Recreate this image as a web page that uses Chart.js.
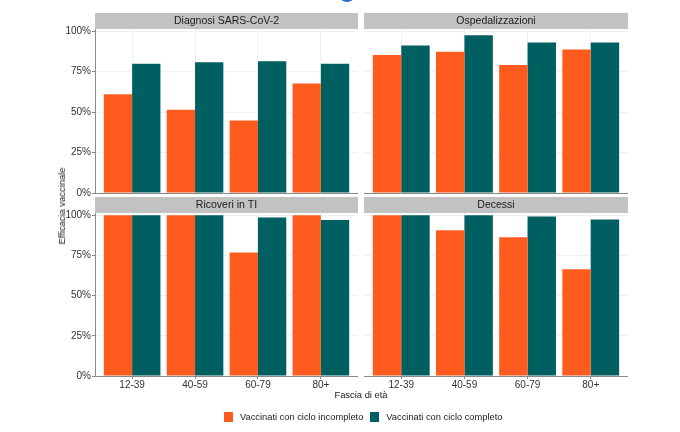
<!DOCTYPE html>
<html>
<head>
<meta charset="utf-8">
<script src="https://cdn.jsdelivr.net/npm/chart.js@4"></script>
<style>
  body { margin: 0; background: #fff; width: 680px; height: 432px; overflow: hidden; position: relative;
         font-family: 'Liberation Sans', Arial, sans-serif; color: #1a1a1a; }
  canvas { position: absolute; }
  .txt { position: absolute; white-space: nowrap; font-size: 9.4px; line-height: 12px; }
  #ytitle { left: 62px; top: 206px; transform: translate(-50%, -50%) rotate(-90deg); }
  #xtitle { left: 361px; top: 389px; transform: translateX(-50%); }
  #legend { position: absolute; left: 224px; top: 412px; display: flex; align-items: center; font-size: 9.3px; }
  #legend .sq { width: 9px; height: 10px; margin-right: 7px; }
  #legend .gap { width: 7px; }
  #logo { position: absolute; left: 340px; top: -10px; width: 14px; height: 12px; border-radius: 50%; background: #1f6fc2; }
</style>
</head>
<body>
<div id="logo"></div>
<canvas id="p0"></canvas>
<canvas id="p1"></canvas>
<canvas id="p2"></canvas>
<canvas id="p3"></canvas>
<div class="txt" id="ytitle">Efficacia vaccinale</div>
<div class="txt" id="xtitle">Fascia di età</div>
<div id="legend"></div>
<script>
'use strict';

const fasce = ['12-39', '40-59', '60-79', '80+'];
const pannelli = ['Diagnosi SARS-CoV-2', 'Ospedalizzazioni', 'Ricoveri in TI', 'Decessi'];
const serie = ['Vaccinati con ciclo incompleto', 'Vaccinati con ciclo completo'];

const diagnosiIncompleto = [0.61, 0.515, 0.448, 0.677];
const diagnosiCompleto = [0.799, 0.809, 0.815, 0.799];
const ospedIncompleto = [0.853, 0.873, 0.791, 0.887];
const ospedCompleto = [0.912, 0.976, 0.931, 0.931];
const tiIncompleto = [1, 1, 0.768, 1];
const tiCompleto = [1, 1, 0.986, 0.971];
const decessiIncompleto = [1, 0.907, 0.863, 0.664];
const decessiCompleto = [1, 1, 0.992, 0.973];

const yTicks = [0, 0.25, 0.5, 0.75, 1];

const incompleto = [diagnosiIncompleto, ospedIncompleto, tiIncompleto, decessiIncompleto];
const completo = [diagnosiCompleto, ospedCompleto, tiCompleto, decessiCompleto];

const ARANCIO = '#ff5b1f';
const VERDE = '#005f60';
const STRIP = '#c2c2c2';
const GRID = '#f1f1f1';
const AXIS = '#8a8a8a';
const FONT = "'Liberation Sans', Arial, sans-serif";

Chart.defaults.font.family = FONT;

// canvas boxes for the 2x2 facets
const boxes = [
  { x: 45, y: 13, w: 313, h: 188, yw: 50, xh: 8, yLab: true, xLab: false },
  { x: 364, y: 13, w: 264, h: 188, yw: 0, xh: 8, yLab: false, xLab: false },
  { x: 45, y: 197, w: 313, h: 201, yw: 50, xh: 22, yLab: true, xLab: true },
  { x: 364, y: 197, w: 264, h: 201, yw: 0, xh: 22, yLab: false, xLab: true }
];

const stripPlugin = {
  id: 'strip',
  beforeDraw(chart, args, opts) {
    const { ctx, chartArea } = chart;
    ctx.save();
    ctx.fillStyle = STRIP;
    ctx.fillRect(chartArea.left, chartArea.top - 16, chartArea.right - chartArea.left, 16);
    ctx.fillStyle = '#1a1a1a';
    ctx.font = '10.5px ' + FONT;
    ctx.textAlign = 'center';
    ctx.textBaseline = 'middle';
    ctx.fillText(opts.title, (chartArea.left + chartArea.right) / 2, chartArea.top - 7.5);
    ctx.restore();
  }
};

function toPoints(values) {
  return values.map((v, i) => ({ x: i, y: v }));
}

function renderPanel(i) {
  const box = boxes[i];
  const canvasElem = document.getElementById('p' + i);
  canvasElem.width = box.w;
  canvasElem.height = box.h;
  canvasElem.style.left = box.x + 'px';
  canvasElem.style.top = box.y + 'px';

  const config = {
    type: 'bar',
    data: {
      datasets: [
        { label: serie[0], data: toPoints(incompleto[i]), backgroundColor: ARANCIO,
          borderWidth: 0, categoryPercentage: 0.9, barPercentage: 1 },
        { label: serie[1], data: toPoints(completo[i]), backgroundColor: VERDE,
          borderWidth: 0, categoryPercentage: 0.9, barPercentage: 1 }
      ]
    },
    options: {
      responsive: false,
      animation: false,
      layout: { padding: { top: 16, left: 0, right: 0, bottom: 0 } },
      plugins: {
        legend: { display: false },
        tooltip: { enabled: false },
        strip: { title: pannelli[i] }
      },
      scales: {
        x: {
          type: 'linear',
          min: -0.59,
          max: 3.59,
          offset: false,
          afterBuildTicks: (s) => { s.ticks = fasce.map((f, k) => ({ value: k })); },
          afterFit: (s) => { s.height = box.xh; },
          ticks: { display: box.xLab, callback: (v) => fasce[v], autoSkip: false, maxRotation: 0,
                   padding: 0, color: '#333', font: { size: 10 } },
          grid: { offset: false, color: GRID, tickColor: AXIS, tickLength: 3, drawTicks: box.xLab },
          border: { display: true, color: AXIS, width: 1 }
        },
        y: {
          min: 0,
          max: 1.014,
          afterBuildTicks: (s) => { s.ticks = yTicks.map((v) => ({ value: v })); },
          afterFit: (s) => { s.width = box.yw; },
          ticks: { display: box.yLab, callback: (v) => Math.round(v * 100) + '%',
                   padding: 1, color: '#333', font: { size: 10 } },
          grid: { color: GRID, tickColor: AXIS, tickLength: 3, drawTicks: box.yLab },
          border: { display: box.yLab, color: AXIS, width: 1 }
        }
      }
    },
    plugins: [stripPlugin]
  };
  new Chart(canvasElem, config);
}

for (let i = 0; i < pannelli.length; i++) {
  renderPanel(i);
}

// legend
const legendElem = document.getElementById('legend');
const colori = [ARANCIO, VERDE];
for (let i = 0; i < serie.length; i++) {
  if (i > 0) {
    const gap = document.createElement('span');
    gap.className = 'gap';
    legendElem.appendChild(gap);
  }
  const sq = document.createElement('span');
  sq.className = 'sq';
  sq.style.background = colori[i];
  legendElem.appendChild(sq);
  const label = document.createElement('span');
  label.textContent = serie[i];
  legendElem.appendChild(label);
}
</script>
</body>
</html>
